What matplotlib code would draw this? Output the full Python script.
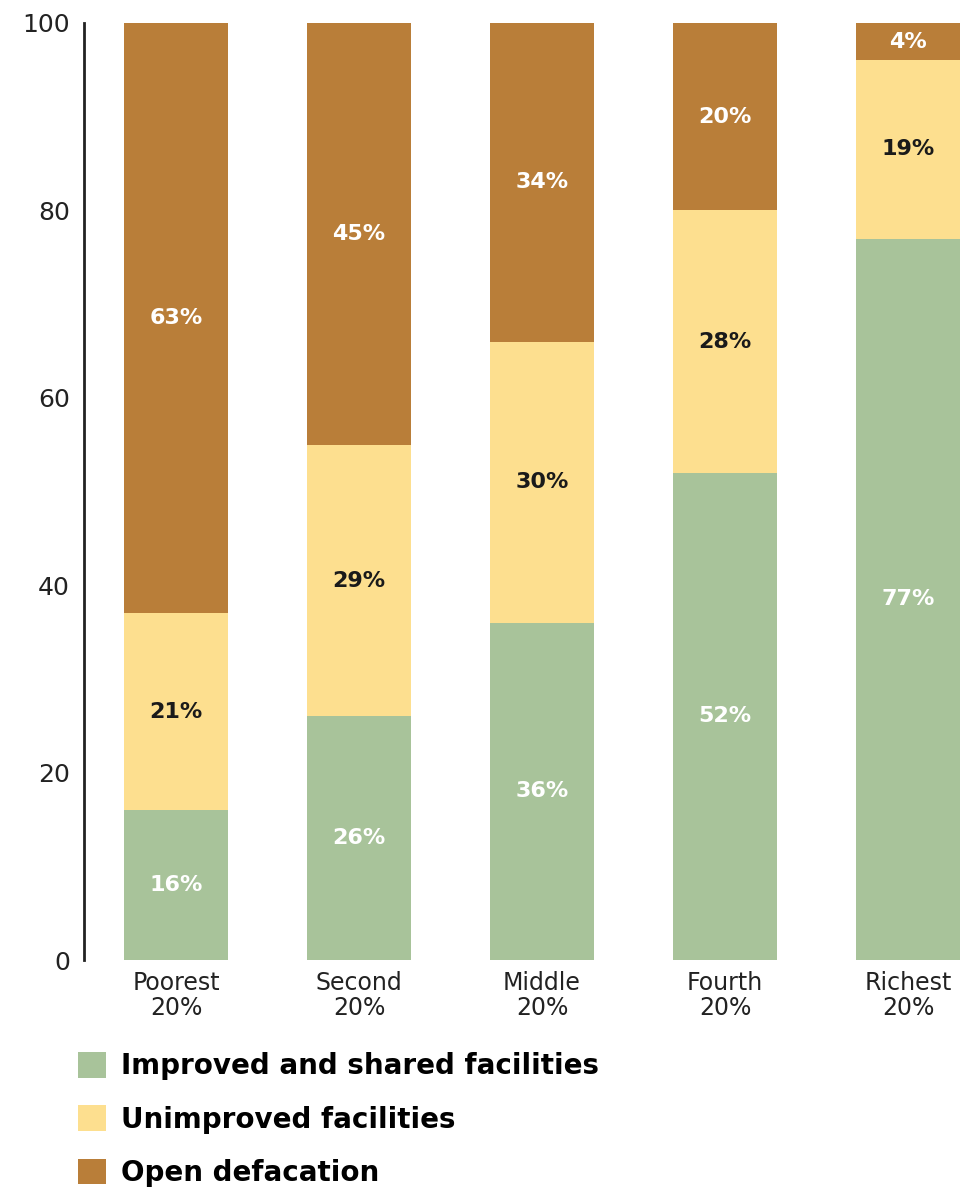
import numpy as np
import matplotlib
matplotlib.use("Agg")
import matplotlib.pyplot as plt

# Sanitation by wealth quintile (% of population)
quintiles = ["Poorest\n20%", "Second\n20%", "Middle\n20%", "Fourth\n20%", "Richest\n20%"]
improved = [16, 26, 36, 52, 77]
unimproved = [21, 29, 30, 28, 19]
open_def = [63, 45, 34, 20, 4]
series_names = ["Improved and shared facilities", "Unimproved facilities", "Open defacation"]
yticks = [0, 20, 40, 60, 80, 100]

colors = ["#A8C39A", "#FDDF8F", "#B97E39"]
text_colors = ["white", "#1a1a1a", "white"]

plt.rcParams["font.family"] = ["DejaVu Sans"]

fig = plt.figure(figsize=(9.72, 11.88), dpi=100)
ax = fig.add_axes([84 / 972, 1 - 960 / 1188, 888 / 972, 937 / 1188])

x = np.arange(len(quintiles))
width = 0.567
bottom = np.zeros(len(quintiles))
handles = []
for vals, col, tcol, name in zip([improved, unimproved, open_def], colors, text_colors, series_names):
    vals = np.array(vals)
    bars = ax.bar(x, vals, width, bottom=bottom, color=col, label=name)
    handles.append(bars)
    for xi, b, v in zip(x, bottom, vals):
        ax.text(xi, b + v / 2, f"{v}%", ha="center", va="center",
                color=tcol, fontsize=16, fontweight="bold")
    bottom += vals

ax.set_xlim(-0.503, 4.35)
ax.set_ylim(0, 100)
ax.set_yticks(yticks)
ax.set_xticks(x)
ax.set_xticklabels(quintiles, fontsize=17, color="#222222", linespacing=1.05)
ax.tick_params(axis="y", length=0, pad=10, labelsize=18, labelcolor="#222222")
ax.tick_params(axis="x", length=0, pad=8)
for side in ["top", "right", "bottom"]:
    ax.spines[side].set_visible(False)
ax.spines["left"].set_linewidth(2)
ax.spines["left"].set_color("#222222")

fig.legend(handles=handles, labels=series_names, loc="upper left",
           bbox_to_anchor=(0.08, 0.1145), frameon=False,
           prop={"size": 20, "weight": "bold"}, handlelength=1.0, handleheight=1.05,
           handletextpad=0.55, labelspacing=0.9, borderpad=0, borderaxespad=0)

fig.savefig("out.png", dpi=100)
